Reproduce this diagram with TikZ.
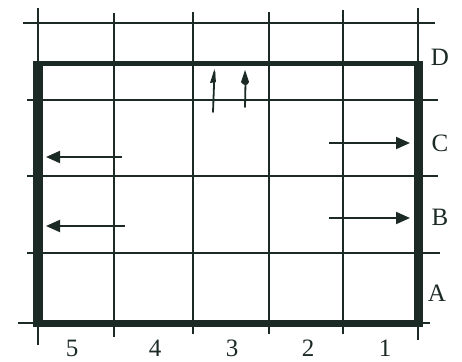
\documentclass[tikz,border=0pt]{standalone}
\usepackage{fontspec}
\setmainfont{Liberation Serif}
\usetikzlibrary{arrows.meta}
\definecolor{ink}{HTML}{1C2A25}
\begin{document}
\begin{tikzpicture}[x=1pt,y=-1pt,
  thin/.style={draw=ink,line width=2pt},
  wall/.style={fill=ink},
  lab/.style={font=\fontsize{25}{25}\selectfont,text=ink,inner sep=0pt},
  arr/.style={draw=ink,line width=2pt,-{Triangle[length=14pt,width=12pt]}},
  hand/.style={draw=ink,line width=1.8pt,line cap=round}]
\useasboundingbox (0,0) rectangle (462,361);
\fill[white] (0,0) rectangle (462,361);
% vertical grid lines
\draw[thin] (38,8) -- (38,345);
\draw[thin] (114,13) -- (114,337);
\draw[thin] (193,12) -- (193,334);
\draw[thin] (269,12) -- (269,334);
\draw[thin] (343,10) -- (343,334);
\draw[thin] (418,8) -- (418,340);
% horizontal grid lines
\draw[thin] (23,23) -- (435,23);
\draw[thin] (27,100) -- (438,100);
\draw[thin] (27,176) -- (438,176);
\draw[thin] (27,253) -- (440,253);
\draw[thin] (18,323) -- (430,323);
% thick walls
\fill[wall] (33,61) rectangle (423,66);
\fill[wall] (33,61) rectangle (43,327);
\fill[wall] (414,61) rectangle (423,327);
\fill[wall] (33,320) rectangle (423,327);
% row labels
\node[lab] (D) at (440,57) {D};
\node[lab] (C) at (440,143) {C};
\node[lab] (B) at (440,217) {B};
\node[lab] (A) at (437,293) {A};
% column labels
\node[lab] (c5) at (72,348) {5};
\node[lab] (c4) at (155,348) {4};
\node[lab] (c3) at (232,348) {3};
\node[lab] (c2) at (308,348) {2};
\node[lab] (c1) at (385,348) {1};
% arrows
\coordinate (l1s) at (122,157); \coordinate (l1e) at (46,157);
\coordinate (l2s) at (125,226); \coordinate (l2e) at (46,226);
\coordinate (r1s) at (329,143); \coordinate (r1e) at (410,143);
\coordinate (r2s) at (329,218); \coordinate (r2e) at (410,218);
\draw[arr] (l1s) -- (l1e);
\draw[arr] (l2s) -- (l2e);
\draw[arr] (r1s) -- (r1e);
\draw[arr] (r2s) -- (r2e);
% hand-drawn marks
\draw[hand] (213,112) -- (214.5,72);
\fill[ink] (214.5,69) -- (210,83) -- (216,82) -- cycle;
\draw[hand] (245,107) -- (245.5,82);
\fill[ink] (245,70) -- (241,82) .. controls (243,86) and (248,86) .. (249,82) -- cycle;
\end{tikzpicture}
\end{document}
